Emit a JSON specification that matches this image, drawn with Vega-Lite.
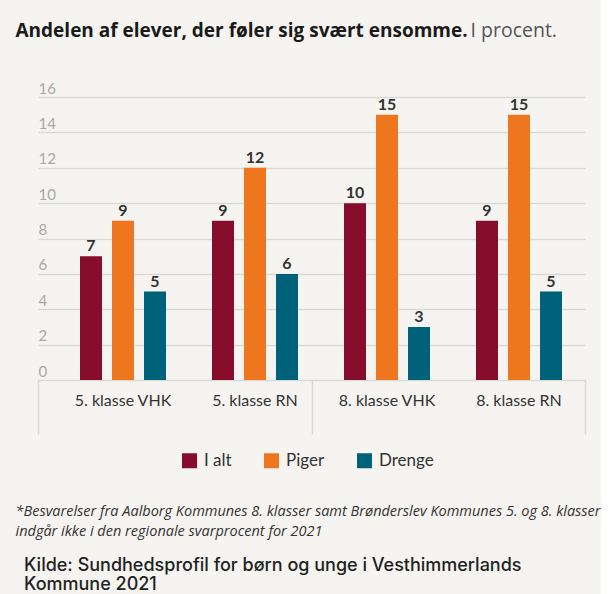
{
  "$schema": "https://vega.github.io/schema/vega-lite/v6.json",
  "width": 547,
  "height": 283,
  "padding": {"left": 15, "top": 20, "right": 0, "bottom": 0},
  "background": "#f5f4f0",
  "config": {"view": {"stroke": null}},
  "title": {
    "text": ["Kilde: Sundhedsprofil for børn og unge i Vesthimmerlands", "Kommune 2021"],
    "orient": "bottom",
    "anchor": "start",
    "frame": "bounds",
    "dx": 9,
    "font": "Inter",
    "fontSize": 18,
    "fontWeight": 500,
    "color": "#222222",
    "lineHeight": 19.5,
    "offset": 19
  },
  "data": {
    "values": [
      {"klasse": "5. klasse VHK", "grade": "5. klasse", "serie": "I alt", "value": 7},
      {"klasse": "5. klasse VHK", "grade": "5. klasse", "serie": "Piger", "value": 9},
      {"klasse": "5. klasse VHK", "grade": "5. klasse", "serie": "Drenge", "value": 5},
      {"klasse": "5. klasse RN", "grade": "5. klasse", "serie": "I alt", "value": 9},
      {"klasse": "5. klasse RN", "grade": "5. klasse", "serie": "Piger", "value": 12},
      {"klasse": "5. klasse RN", "grade": "5. klasse", "serie": "Drenge", "value": 6},
      {"klasse": "8. klasse VHK", "grade": "8. klasse", "serie": "I alt", "value": 10},
      {"klasse": "8. klasse VHK", "grade": "8. klasse", "serie": "Piger", "value": 15},
      {"klasse": "8. klasse VHK", "grade": "8. klasse", "serie": "Drenge", "value": 3},
      {"klasse": "8. klasse RN", "grade": "8. klasse", "serie": "I alt", "value": 9},
      {"klasse": "8. klasse RN", "grade": "8. klasse", "serie": "Piger", "value": 15},
      {"klasse": "8. klasse RN", "grade": "8. klasse", "serie": "Drenge", "value": 5}
    ]
  },
  "layer": [
    {
      "encoding": {
        "x": {
          "field": "klasse",
          "type": "nominal",
          "sort": null,
          "scale": {"paddingInner": 0, "paddingOuter": 0.072, "align": 1},
          "axis": {
            "title": "I procent.",
            "titleAngle": 0,
            "titleAlign": "left",
            "titleBaseline": "alphabetic",
            "titleX": 432,
            "titleY": -344,
            "titleFont": "Open Sans",
            "titleFontSize": 19.5,
            "titleFontWeight": "normal",
            "titleColor": "#555555",
            "labelAngle": 0,
            "labelFont": "Lato",
            "labelFontSize": 16,
            "labelColor": "#333333",
            "labelPadding": 12,
            "ticks": false,
            "domain": false
          }
        },
        "xOffset": {
          "field": "serie",
          "type": "nominal",
          "sort": ["I alt", "Piger", "Drenge"],
          "scale": {"paddingInner": 0.3125, "paddingOuter": 0.719}
        },
        "y": {
          "field": "value",
          "type": "quantitative",
          "scale": {"domain": [0, 16], "nice": false},
          "axis": {
            "values": [0, 2, 4, 6, 8, 10, 12, 14, 16],
            "title": "Andelen af elever, der føler sig svært ensomme.",
            "titleAngle": 0,
            "titleAlign": "left",
            "titleBaseline": "alphabetic",
            "titleX": -23,
            "titleY": -61,
            "titleFont": "Open Sans",
            "titleFontSize": 19,
            "titleFontWeight": "bold",
            "titleColor": "#1a1a1a",
            "labelAlign": "left",
            "labelBaseline": "bottom",
            "labelPadding": 0,
            "labelOffset": -1,
            "labelColor": "#a8a8a8",
            "labelFont": "Lato",
            "labelFontSize": 15,
            "ticks": false,
            "tickSize": 0,
            "domain": false,
            "grid": true,
            "gridColor": "#d9d9d6",
            "gridWidth": 1.5
          }
        }
      },
      "layer": [
        {
          "mark": {"type": "bar"},
          "encoding": {
            "color": {
              "field": "serie",
              "type": "nominal",
              "sort": ["I alt", "Piger", "Drenge"],
              "scale": {"domain": ["I alt", "Piger", "Drenge"], "range": ["#860d2b", "#ee761f", "#00617b"]},
              "legend": {
                "orient": "none",
                "legendX": 143,
                "legendY": 355,
                "padding": 0,
                "direction": "horizontal",
                "title": null,
                "symbolType": "square",
                "symbolSize": 225,
                "symbolStrokeWidth": 0,
                "labelFont": "Lato",
                "labelFontSize": 17,
                "labelColor": "#333333",
                "columnPadding": 31,
                "labelOffset": 6
              }
            }
          }
        },
        {
          "mark": {"type": "text", "baseline": "bottom", "dy": -2, "font": "Lato", "fontSize": 16, "fontWeight": "bold", "color": "#333333"},
          "encoding": {"text": {"field": "value", "type": "quantitative"}}
        }
      ]
    },
    {
      "mark": {"type": "rule", "opacity": 0},
      "encoding": {
        "x": {
          "field": "grade",
          "type": "nominal",
          "sort": null,
          "scale": {"paddingInner": 0, "paddingOuter": 0},
          "axis": {
            "orient": "bottom",
            "tickBand": "extent",
            "ticks": true,
            "tickSize": 54,
            "tickColor": "#d9d9d6",
            "tickWidth": 1.5,
            "labels": false,
            "domain": false,
            "grid": false,
            "title": ["*Besvarelser fra Aalborg Kommunes 8. klasser samt Brønderslev Kommunes 5. og 8. klasser", "indgår ikke i den regionale svarprocent for 2021"],
            "titleAngle": 0,
            "titleAlign": "left",
            "titleBaseline": "alphabetic",
            "titleX": -23,
            "titleY": 135,
            "titleLineHeight": 20,
            "titleFont": "Open Sans",
            "titleFontSize": 14.5,
            "titleFontStyle": "italic",
            "titleFontWeight": "normal",
            "titleColor": "#333333"
          }
        }
      }
    }
  ],
  "resolve": {"scale": {"x": "independent"}, "axis": {"x": "independent"}}
}
